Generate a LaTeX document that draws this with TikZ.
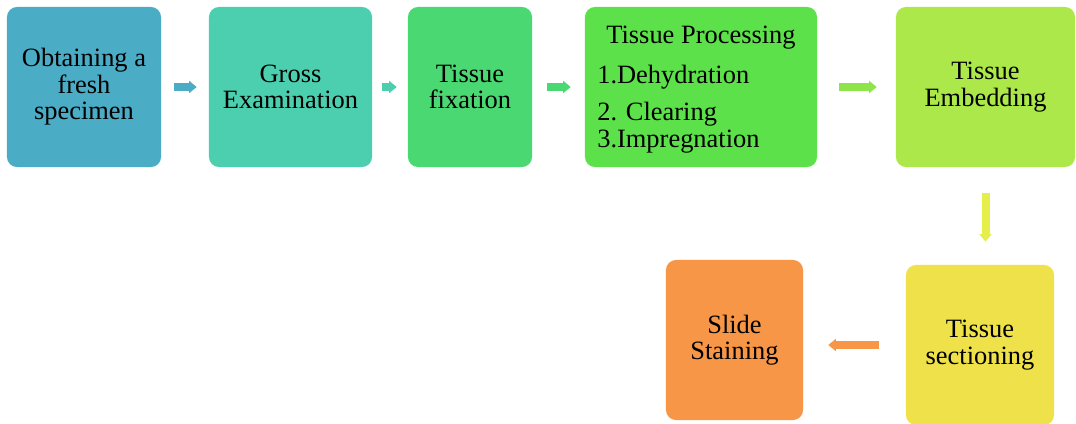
\documentclass[tikz,border=0pt]{standalone}
\usepackage{fontspec}
\setmainfont{Liberation Serif}
\usetikzlibrary{arrows.meta}

\definecolor{cObtain}{HTML}{4BACC6}
\definecolor{cGross}{HTML}{4BCFAF}
\definecolor{cFix}{HTML}{4AD873}
\definecolor{cProc}{HTML}{5DE14A}
\definecolor{cEmbed}{HTML}{ACE84A}
\definecolor{cSection}{HTML}{EFE14A}
\definecolor{cSlide}{HTML}{F79646}
\definecolor{cLinkFour}{HTML}{8EE54B}
\definecolor{cLinkFive}{HTML}{E6EF4A}

\begin{document}
\begin{tikzpicture}[
                    x=0.025cm, y=-0.025cm,
                    every node/.style={
                        font=\fontsize{18.8}{18.9}\selectfont,
                        align=center,
                        inner sep=0pt
                    },
                    stage/.style={
                        rounded corners=0.25cm,
                        minimum height=4cm
                    },
                    link/.style={
                        line width=0.2cm,
                        -{Triangle[length=0.19cm, width=0.3cm]}
                    }
                ]
                    \useasboundingbox (0,0) rectangle (1076,423);

                    \node[stage, fill=cObtain, minimum width=3.85cm] (obtain) at (84,87) {Obtaining a\\fresh\\specimen};
                    \node[stage, fill=cGross, minimum width=4.075cm] (gross) at (290.5,87) {Gross\\Examination};
                    \node[stage, fill=cFix, minimum width=3.1cm] (fix) at (470,87) {Tissue\\fixation};
                    \node[stage, fill=cProc, minimum width=5.8cm] (proc) at (701,87) {};
                    \node[anchor=base] (proctitle) at (701,43) {Tissue Processing};
                    \node[anchor=base west] (dehyd) at (597,83) {1.Dehydration};
                    \node[anchor=base west] (clear) at (597,120) {2. Clearing};
                    \node[anchor=base west] (impreg) at (597,147.5) {3.Impregnation};
                    \node[stage, fill=cEmbed, minimum width=4.475cm] (embed) at (985.5,87) {Tissue\\Embedding};
                    \node[stage, fill=cSection, minimum width=3.7cm] (section) at (980,345) {Tissue\\sectioning};
                    \node[stage, fill=cSlide, minimum width=3.425cm] (slide) at (734.5,340) {Slide\\Staining};

                    % Arrows
                    \draw[link, cObtain, shorten <=0.325cm, shorten >=0.3cm] (obtain) -- (gross);
                    \draw[link, cGross, shorten <=0.25cm, shorten >=0.275cm] (gross) -- (fix);
                    \draw[link, cFix, shorten <=0.375cm, shorten >=0.35cm] (fix) -- (proc);
                    \draw[link, cLinkFour, shorten <=0.55cm, shorten >=0.475cm] (proc) -- (embed);
                    \draw[link, cLinkFive, shorten <=0.65cm, shorten >=0.575cm] (embed.south) -- (embed.south |- section.north);
                    \draw[link, cSlide, shorten <=0.675cm, shorten >=0.625cm] (section.west) -- (section.west -| slide.east);
                \end{tikzpicture}
\end{document}
